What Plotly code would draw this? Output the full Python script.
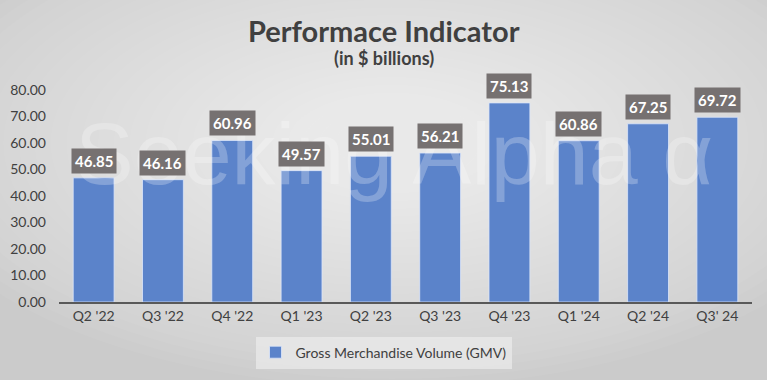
import plotly.graph_objects as go

categories = ["Q2 '22", "Q3 '22", "Q4 '22", "Q1 '23", "Q2 '23", "Q3 '23", "Q4 '23", "Q1 '24", "Q2 '24", "Q3' 24"]
gmv = [46.85, 46.16, 60.96, 49.57, 55.01, 56.21, 75.13, 60.86, 67.25, 69.72]
y_ticks = [0, 10, 20, 30, 40, 50, 60, 70, 80]
series_name = "Gross Merchandise Volume (GMV)"

FONT = "Lato, 'Open Sans', sans-serif"
W, H = 767, 380
ML, MR, MT, MB = 59, 15, 90, 78
CENTER_X = (W / 2 - ML) / (W - ML - MR)  # figure centre in paper coords

fig = go.Figure()
fig.add_trace(go.Bar(
    x=categories, y=gmv, name=series_name,
    marker=dict(color="#5B83CA", line=dict(color="rgba(220,230,250,0.8)", width=1)),
    hoverinfo="x+y",
))

# radial-like background gradient (layered translucent ellipses)
shapes = []
n = 30
for i in range(n):
    f = i / n
    s = 1.0 - f * 0.95
    shapes.append(dict(
        type="circle", xref="paper", yref="paper", layer="below",
        x0=0.48 - s * 0.72, x1=0.48 + s * 0.72,
        y0=0.75 - s * 1.15, y1=0.75 + s * 1.15,
        fillcolor="rgba(255,255,255,0.045)", line=dict(width=0),
    ))

annotations = []
annotations.append(dict(
    x=0.02, y=45, xref="paper", yref="y", xanchor="left", yanchor="bottom",
    text="Seeking Alpha α", showarrow=False, yshift=-22,
    font=dict(family="'Liberation Sans', Arial, sans-serif", size=88, color="rgba(255,255,255,0.25)"),
))

for c, v in zip(categories, gmv):
    annotations.append(dict(
        x=c, y=v, xref="x", yref="y", text=f"<b>{v:.2f}</b>", showarrow=False,
        yanchor="bottom", yshift=4, bgcolor="#767171", borderpad=3,
        font=dict(family=FONT, size=15, color="white"),
    ))
annotations.append(dict(
    x=CENTER_X, y=1.0, xref="paper", yref="paper", yanchor="middle", yshift=60,
    text="<b>Performace Indicator</b>", showarrow=False,
    font=dict(family=FONT, size=29, color="#404040"),
))
annotations.append(dict(
    x=CENTER_X, y=1.0, xref="paper", yref="paper", yanchor="middle", yshift=32,
    text="<b>(in $ billions)</b>", showarrow=False,
    font=dict(family=FONT, size=18, color="#404040"),
))

fig.update_layout(
    width=W, height=H,
    margin=dict(l=ML, r=MR, t=MT, b=MB, autoexpand=False),
    paper_bgcolor="#cbcbcb", plot_bgcolor="rgba(0,0,0,0)",
    shapes=shapes, annotations=annotations,
    bargap=0.41,
    showlegend=True,
    legend=dict(
        orientation="h", xref="container", x=0.5, xanchor="center",
        yref="container", y=0.03, yanchor="bottom",
        bgcolor="rgba(240,240,240,0.6)",
        font=dict(family=FONT, size=14, color="#404040"),
        itemwidth=30,
    ),
    xaxis=dict(
        showline=True, linecolor="#595959", linewidth=2, ticks="",
        tickfont=dict(family=FONT, size=14, color="#404040"),
        fixedrange=True, automargin=False,
    ),
    yaxis=dict(
        range=[0, 80], tickvals=y_ticks, ticktext=[f"{t:.2f}" for t in y_ticks],
        showgrid=False, zeroline=False, showline=False, ticks="",
        tickfont=dict(family=FONT, size=14, color="#404040"),
        fixedrange=True, automargin=False, ticklabelstandoff=12,
    ),
)

fig.write_html(
    "out.html",
    config={"displayModeBar": False},
    post_script="document.body.style.margin='0';document.body.style.overflow='hidden';",
)
